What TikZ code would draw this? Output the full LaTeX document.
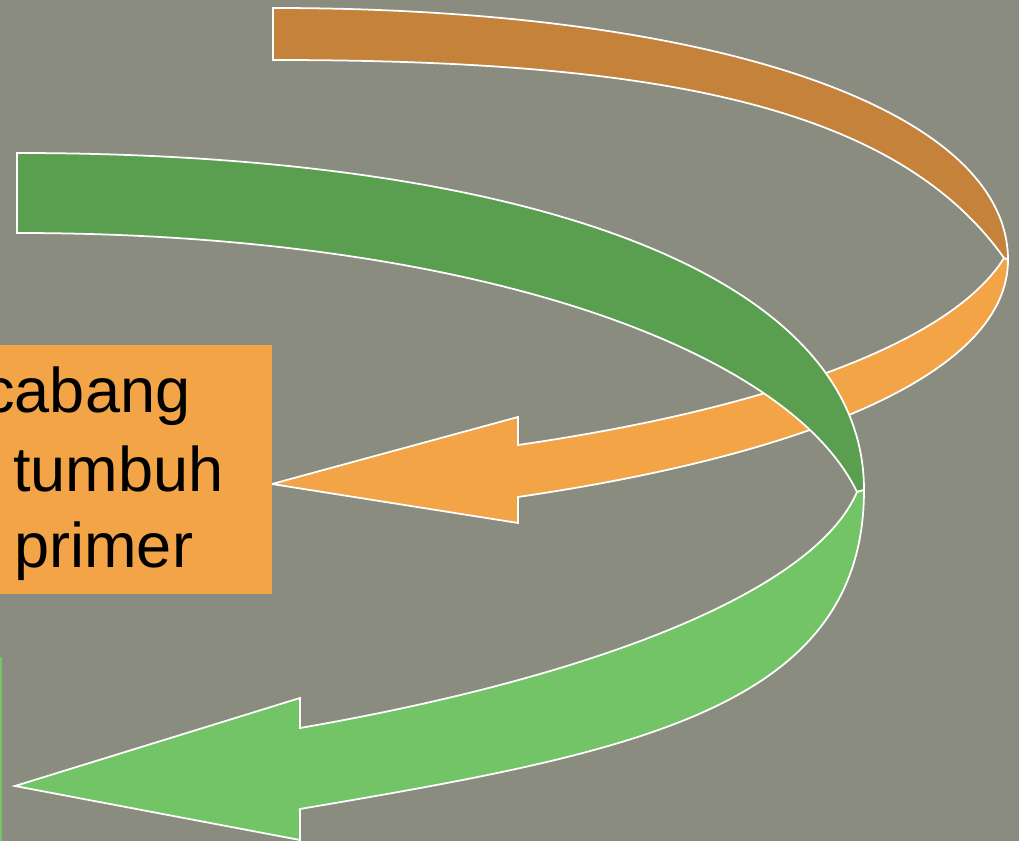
\documentclass[tikz,border=0pt]{standalone}
\usepackage{fontspec}
\setmainfont{Liberation Sans}
\definecolor{bgcol}{HTML}{8A8C7F}
\definecolor{orgdark}{HTML}{C4823A}
\definecolor{orglight}{HTML}{F3A447}
\definecolor{grndark}{HTML}{5A9E50}
\definecolor{grnlight}{HTML}{72C466}

\begin{document}
\begin{tikzpicture}[x=0.02cm,y=-0.02cm,
  band/.style={draw=white,line width=1pt,line join=miter},
  txt/.style={anchor=base west,inner sep=0pt,font=\fontsize{35.9}{43}\selectfont}]
\useasboundingbox (0,0) rectangle (1019,841);
\clip (0,0) rectangle (1019,841);
\fill[bgcol] (0,0) rectangle (1019,841);
\filldraw[band,fill=orgdark] (273,8) .. controls (714,8) and (1008,109) .. (1008,260)
  -- (1004,258) .. controls (894,103) and (650,60) .. (273,60) -- cycle;
\filldraw[band,fill=orglight] (1008,260) .. controls (1008,370) and (818,453) .. (518,497)
  -- (518,523) -- (272,484) -- (518,417) -- (518,445)
  .. controls (760,410) and (950,345) .. (1004,258) -- cycle;
\filldraw[band,fill=grndark] (17,153) .. controls (517,153) and (864,270) .. (864,490)
  -- (857,492) .. controls (787,347) and (467,233) .. (17,233) -- cycle;
\filldraw[band,fill=grnlight] (864,490) .. controls (864,710) and (630,753) .. (300,809)
  -- (300,840) -- (15,786) -- (300,698) -- (300,728)
  .. controls (600,676) and (815,590) .. (857,492) -- cycle;
\fill[orglight] (0,345) rectangle (272,594);
\fill[grnlight] (0,657) rectangle (2.5,841);
\node[txt] (l1) at (-17,413) {cabang};
\node[txt] (l2) at (13,492) {tumbuh};
\node[txt] (l3) at (14,568) {primer};
\end{tikzpicture}
\end{document}
